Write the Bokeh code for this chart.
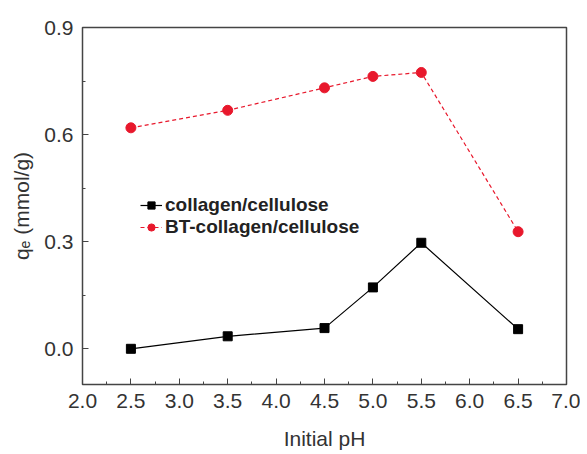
from bokeh.plotting import figure
from bokeh.models import SingleIntervalTicker, Range1d, Legend, LegendItem, NumeralTickFormatter
from bokeh.embed import file_html
from bokeh.resources import INLINE

ph = [2.5, 3.5, 4.5, 5.0, 5.5, 6.5]
collagen = [0.0, 0.035, 0.058, 0.172, 0.297, 0.055]
bt_collagen = [0.619, 0.668, 0.731, 0.763, 0.774, 0.328]

FONT = "Liberation Sans"
RED = "#e8182c"

p = figure(width=580, height=452, output_backend="svg", toolbar_location=None,
           x_range=Range1d(2.0, 7.0), y_range=Range1d(-0.1, 0.9),
           min_border_left=82, min_border_right=14, min_border_top=27, min_border_bottom=64)
p.grid.visible = False
p.background_fill_color = "white"
p.border_fill_color = "white"
p.outline_line_color = "#444444"
p.outline_line_width = 1.5

r1l = p.line(ph, collagen, line_color="black", line_width=1.2)
r1m = p.scatter(ph, collagen, marker="square", size=9, fill_color="black", line_color="black")
r2l = p.line(ph, bt_collagen, line_color=RED, line_width=1.2, line_dash="4 3")
r2m = p.scatter(ph, bt_collagen, marker="circle", size=10, fill_color=RED, line_color=RED)

p.xaxis.ticker = SingleIntervalTicker(interval=0.5, num_minor_ticks=2)
p.yaxis.ticker = SingleIntervalTicker(interval=0.3, num_minor_ticks=2)
p.xaxis.formatter = NumeralTickFormatter(format="0.0")
p.yaxis.formatter = NumeralTickFormatter(format="0.0")

for ax in (p.xaxis[0], p.yaxis[0]):
    ax.axis_line_color = None
    ax.major_tick_in = 6
    ax.major_tick_out = 0
    ax.minor_tick_in = 3
    ax.minor_tick_out = 0
    ax.major_tick_line_color = "#444444"
    ax.minor_tick_line_color = "#444444"
    ax.major_label_text_font = FONT
    ax.major_label_text_font_size = "21px"
    ax.major_label_text_color = "#333333"
    ax.axis_label_text_font = FONT
    ax.axis_label_text_font_size = "21px"
    ax.axis_label_text_font_style = "normal"
    ax.axis_label_text_color = "#333333"
    ax.major_label_standoff = 9

p.xaxis.axis_label = "Initial pH"
p.xaxis.axis_label_standoff = 16
p.yaxis.axis_label = "qₑ (mmol/g)"
p.yaxis.axis_label_standoff = 8

legend = Legend(items=[
    LegendItem(label="collagen/cellulose", renderers=[r1l, r1m]),
    LegendItem(label="BT-collagen/cellulose", renderers=[r2l, r2m]),
], location=(58, 146))
legend.label_text_font = FONT
legend.label_text_font_size = "19px"
legend.label_text_font_style = "bold"
legend.label_text_color = "#222222"
legend.glyph_width = 22
legend.glyph_height = 18
legend.label_height = 18
legend.spacing = 0
legend.padding = 0
legend.margin = 0
legend.label_standoff = 3
legend.border_line_color = None
legend.background_fill_alpha = 0
p.add_layout(legend, "center")

open("out.html", "w").write(file_html(p, INLINE))
